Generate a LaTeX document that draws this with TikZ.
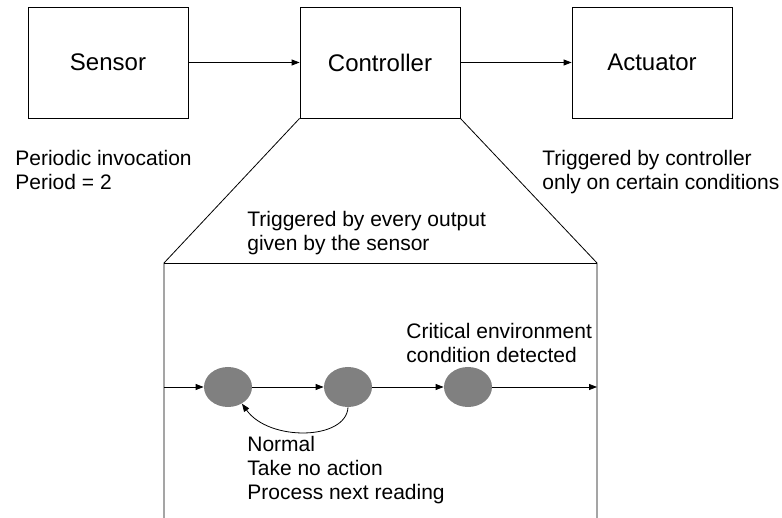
\documentclass[tikz,border=0pt]{standalone}
\usepackage{fontspec}
\setmainfont{Liberation Sans}
\usetikzlibrary{arrows.meta,shapes.geometric}
\begin{document}
\begin{tikzpicture}[x=1pt,y=-1pt,
  line width=0.8pt,
  block/.style={draw, minimum width=160pt, minimum height=111pt, inner sep=0pt,
    font=\fontsize{24}{28}\selectfont},
  state/.style={ellipse, fill=black!50, minimum width=48pt, minimum height=40pt, inner sep=0pt},
  note/.style={anchor=north west, align=left, inner sep=0pt,
    font=\fontsize{21}{24}\selectfont},
  arr/.style={-{Triangle[length=8pt,width=6pt]}}]
\useasboundingbox[fill=white] (0,0) rectangle (782,518);

% top-level blocks
\node[block] (sensor) at (108,62.5) {Sensor};
\node[block] (ctrl) at (380,62.5) {Controller};
\node[block] (act) at (652,62.5) {Actuator};
\draw[arr] (sensor) -- (ctrl);
\draw[arr] (ctrl) -- (act);

% annotations
\node[note] (per) at (15,149.5) {Periodic invocation\\Period = 2};
\node[note] (trig) at (542,149.5) {Triggered by controller\\only on certain conditions};

% zoomed-in view of the controller
\coordinate (zl) at (164,263);
\coordinate (zr) at (597,263);
\coordinate (bl) at (164,518);
\coordinate (br) at (597,518);
\draw (ctrl.south west) -- (zl) -- (bl);
\draw (ctrl.south east) -- (zr) -- (br);
\draw (zl) -- (zr);
\node[note] (every) at (247,210.5) {Triggered by every output\\given by the sensor};

% state machine inside the controller
\node[state] (s1) at (228,387) {};
\node[state] (s2) at (348,387) {};
\node[state] (s3) at (468,387) {};
\coordinate (in) at (164,387);
\coordinate (out) at (597,387);
\draw[arr] (in) -- (s1);
\draw[arr] (s1) -- (s2);
\draw[arr] (s2) -- (s3);
\draw[arr] (s3) -- (out);
\draw[arr] (s2.south) .. controls +(-2,33) and +(27,38) .. (s1.-50);

\node[note] (crit) at (406,322.5) {Critical environment\\condition detected};
\node[note] (norm) at (247,435.5) {Normal\\Take no action\\Process next reading};
\end{tikzpicture}
\end{document}
